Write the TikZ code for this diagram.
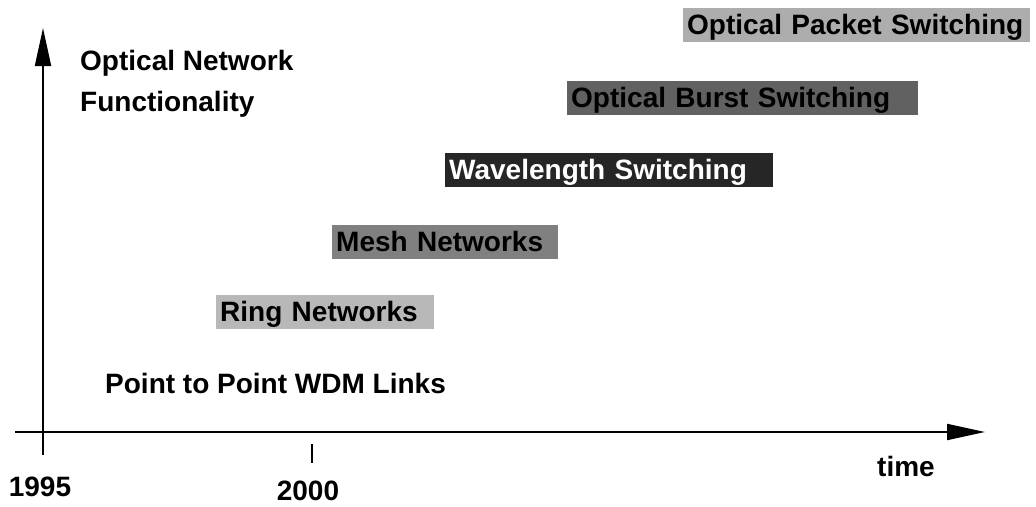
\documentclass[tikz,border=0pt]{standalone}
\usepackage{fontspec}
\setmainfont{Liberation Sans}
\usetikzlibrary{arrows.meta}
\begin{document}
\begin{tikzpicture}[x=1pt,y=-1pt,
  lab/.style={font=\fontsize{28}{30}\selectfont\bfseries, inner sep=0pt},
  era/.style={font=\fontsize{28}{30}\selectfont\bfseries, anchor=west, align=left,
    inner xsep=4pt, inner ysep=0pt, minimum height=34pt, text depth=0.25ex},
  axis/.style={line width=2pt, -{Triangle[length=38pt,width=16pt]}}]
\useasboundingbox (0,0) rectangle (1036,506);
% axes
\coordinate (yb) at (43,455);
\coordinate (yt) at (43,28);
\coordinate (xl) at (15,432);
\coordinate (xr) at (985,432);
\draw[axis] (yb) -- (yt);
\draw[axis] (xl) -- (xr);
\coordinate (t1) at (312,444);
\coordinate (t2) at (312,463);
\draw[line width=1.2pt] (t1) -- (t2);
% labels
\node[lab] (y95) at (40,487) {1995};
\node[lab] (y00) at (308,491) {2000};
\node[lab] (time) at (906,466) {time};
\node[lab, anchor=west] (on) at (80,63) {Optical Network};
\node[lab, anchor=west] (fn) at (80,104) {Functionality};
% eras
\node[era, fill=black!32, text width=339pt] (ops) at (683,25) {Optical Packet Switching};
\node[era, fill=black!62, text width=343pt] (obs) at (567,98) {Optical Burst Switching};
\node[era, fill=black!85, text=white, text width=320pt] (ws) at (445,170) {Wavelength Switching};
\node[era, fill=black!50, text width=218pt] (mn) at (332,242) {Mesh Networks};
\node[era, fill=black!28, text width=210pt] (rn) at (216,312) {Ring Networks};
\node[lab, anchor=west] (p2p) at (105,383) {Point to Point WDM Links};
\end{tikzpicture}
\end{document}
